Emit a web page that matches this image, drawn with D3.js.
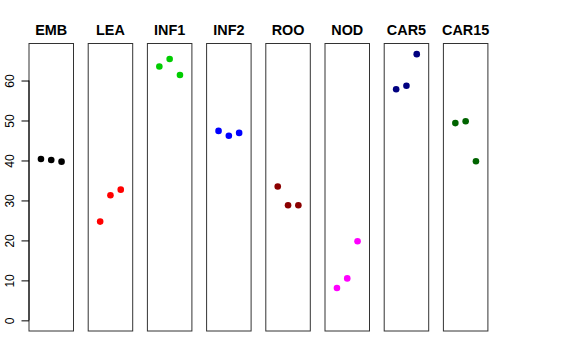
<!DOCTYPE html>
<html><head><meta charset="utf-8">
<script src="https://cdn.jsdelivr.net/npm/d3@7"></script>
<style>body{margin:0;background:#fff}svg{display:block}</style>
</head><body>
<svg id="chart" width="576" height="360"></svg>
<script>
const categories = ["EMB","LEA","INF1","INF2","ROO","NOD","CAR5","CAR15"];
const colors = ["#000000","#FF0000","#00CD00","#0000FF","#8B0000","#FF00FF","#000080","#006400"];
const values = [
  [40.35, 40.1, 39.7],
  [24.7, 31.3, 32.7],
  [63.5, 65.4, 61.4],
  [47.4, 46.2, 46.9],
  [33.5, 28.8, 28.8],
  [8.1, 10.5, 19.8],
  [57.8, 58.7, 66.6],
  [49.35, 49.8, 39.8]
];
const yTicks = [0,10,20,30,40,50,60];

const svg = d3.select("#chart");
const plotTop = 43.5, plotBottom = 331, panelW = 44.5, step = 59.2, left0 = 29;
const yMax = 66.6;
const y = d3.scaleLinear().domain([-0.04*yMax, 1.04*yMax]).range([plotBottom, plotTop]);
const x = d3.scaleLinear().domain([-0.16, 4.16]).range([0, panelW]);

categories.forEach((cat, i) => {
  const g = svg.append("g").attr("transform", `translate(${left0 + i*step},0)`);
  g.append("rect").attr("x", 0).attr("y", plotTop).attr("width", panelW).attr("height", plotBottom - plotTop)
    .attr("fill", "none").attr("stroke", "#333").attr("stroke-width", 1);
  g.append("text").attr("x", panelW/2).attr("y", 34.5).attr("text-anchor", "middle")
    .attr("font-family", "Liberation Sans, Arial, sans-serif").attr("font-weight", "bold")
    .attr("font-size", 14.4).text(cat);
  g.selectAll("circle").data(values[i]).enter().append("circle")
    .attr("cx", (d, j) => x(j+1)).attr("cy", d => y(d)).attr("r", 3.3)
    .attr("fill", colors[i]);
});

const axis = d3.axisLeft(y).tickValues(yTicks).tickSize(7.5).tickPadding(4);
const ag = svg.append("g").attr("transform", `translate(${left0},0)`).call(axis);
ag.select(".domain").attr("stroke", "#000").attr("d", `M0,${y(0)}V${y(60)}`);
ag.selectAll(".tick line").attr("stroke", "#000");
ag.selectAll(".tick text")
  .attr("font-family", "Liberation Sans, Arial, sans-serif").attr("font-size", 12).attr("fill", "#000")
  .attr("text-anchor", "middle")
  .attr("transform", "translate(-19,0) rotate(-90)").attr("x", 0).attr("y", 0).attr("dy", "0.35em");
</script>
</body></html>
